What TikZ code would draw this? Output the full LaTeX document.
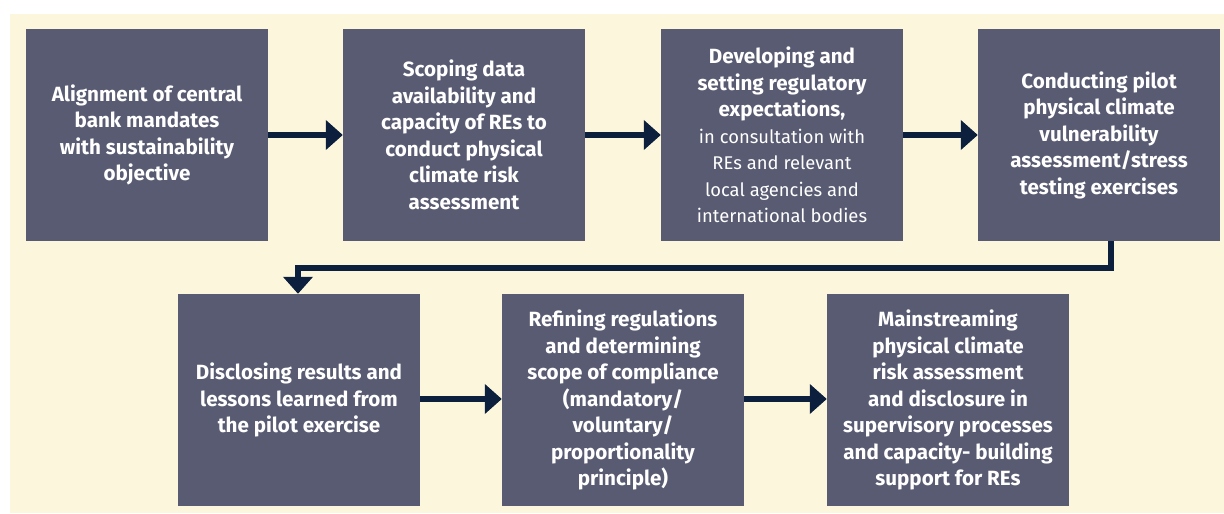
\documentclass[tikz,border=0pt]{standalone}
\usepackage{fontspec}
\setmainfont{Fira Sans}
\usetikzlibrary{arrows.meta}
\definecolor{boxfill}{HTML}{585B72}
\definecolor{cream}{HTML}{FCF7DC}
\definecolor{navy}{HTML}{0C1F3D}
\newcommand{\lite}[1]{{\mdseries\fontsize{18.4}{26.5}\selectfont #1}}
\begin{document}
\begin{tikzpicture}[x=1pt,y=-1pt,
  stepbox/.style={fill=boxfill,draw=none,minimum width=242pt,minimum height=212pt,inner sep=0pt,
    text=white,align=center,font=\fontsize{20.6}{26.5}\selectfont\bfseries},
  flow/.style={draw=navy,line width=6pt,-{Triangle[length=17pt,width=29pt]}}]
\useasboundingbox (0,0) rectangle (1224,514);
\fill[white] (0,0) rectangle (1224,514);
\fill[cream] (10,14) rectangle (1224,513);
\node[stepbox] (b1) at (147,135) {Alignment of central\\bank mandates\\with sustainability\\objective};
\node[stepbox] (b2) at (464,135) {Scoping data\\availability and\\capacity of REs to\\conduct physical\\climate risk\\assessment};
\node[stepbox] (b3) at (782,135) {Developing and\\setting regulatory\\expectations,\\\lite{in consultation with}\\\lite{REs and relevant}\\\lite{local agencies and}\\\lite{international bodies}};
\node[stepbox] (b4) at (1099,135) {Conducting pilot\\physical climate\\vulnerability\\assessment/stress\\testing exercises};
\node[stepbox] (b5) at (299,400) {Disclosing results and\\lessons learned from\\the pilot exercise};
\node[stepbox] (b6) at (623,400) {Refining regulations\\and determining\\scope of compliance\\(mandatory/\\voluntary/\\proportionality\\principle)};
\node[stepbox] (b7) at (948,400) {Mainstreaming\\physical climate\\risk assessment\\and disclosure in\\supervisory processes\\and capacity- building\\support for REs};
\draw[flow] (b1.east) -- (b2.west);
\draw[flow] (b2.east) -- (b3.west);
\draw[flow] (b3.east) -- (b4.west);
\draw[flow] (b5.east |- 0,399) -- (b6.west |- 0,399);
\draw[flow] (b6.east |- 0,399) -- (b7.west |- 0,399);
\draw[flow] (b4.south -| 1111,0) |- (298,268) -- (b5.north -| 298,0);
\end{tikzpicture}
\end{document}
